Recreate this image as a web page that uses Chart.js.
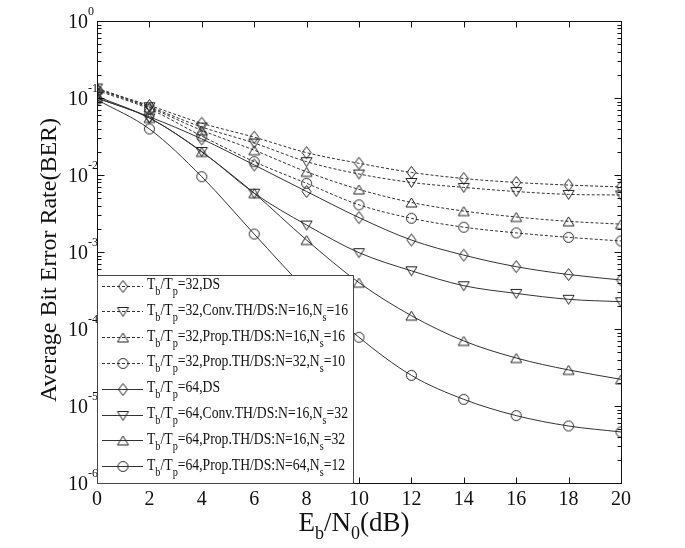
<!DOCTYPE html>
<html><head><meta charset="utf-8">
<script src="https://cdn.jsdelivr.net/npm/chart.js@4/dist/chart.umd.min.js"></script>
<style>html,body{margin:0;padding:0;background:#fff;} #wrap{width:685px;height:548px;position:relative;}</style>
</head><body><div id="wrap"><canvas id="c" width="685" height="548"></canvas></div>
<script>
// ---- data ----
const ebn0 = [0, 2, 4, 6, 8, 10, 12, 14, 16, 18, 20];
const ds32    = [0.130, 0.080, 0.047, 0.031, 0.0195, 0.0142, 0.0108, 0.0090, 0.0080, 0.0074, 0.0070];
const conv32  = [0.135, 0.077, 0.042, 0.026, 0.0149, 0.0103, 0.0080, 0.0069, 0.0061, 0.0056, 0.0055];
const propA32 = [0.130, 0.075, 0.038, 0.021, 0.0110, 0.0065, 0.0044, 0.0034, 0.00285, 0.0025, 0.0023];
const propB32 = [0.125, 0.072, 0.032, 0.0149, 0.0078, 0.0041, 0.00274, 0.0021, 0.00177, 0.00155, 0.00139];
const ds64    = [0.100, 0.057, 0.0294, 0.0135, 0.0061, 0.0028, 0.00143, 0.00091, 0.000645, 0.00051, 0.000433];
const conv64  = [0.105, 0.055, 0.0202, 0.0058, 0.00224, 0.00098, 0.00057, 0.000365, 0.00029, 0.000243, 0.000226];
const propA64 = [0.100, 0.055, 0.0199, 0.0058, 0.00143, 0.00040, 0.000149, 0.000070, 0.000042, 0.0000294, 0.0000222];
const propB64 = [0.095, 0.0396, 0.0095, 0.00171, 0.00032, 0.000078, 0.000025, 0.0000122, 0.0000075, 0.0000055, 0.0000046];
const legendLabels = [
  "T_{b}/T_{p}=32,DS",
  "T_{b}/T_{p}=32,Conv.TH/DS:N=16,N_{s}=16",
  "T_{b}/T_{p}=32,Prop.TH/DS:N=16,N_{s}=16",
  "T_{b}/T_{p}=32,Prop.TH/DS:N=32,N_{s}=10",
  "T_{b}/T_{p}=64,DS",
  "T_{b}/T_{p}=64,Conv.TH/DS:N=16,N_{s}=32",
  "T_{b}/T_{p}=64,Prop.TH/DS:N=16,N_{s}=32",
  "T_{b}/T_{p}=64,Prop.TH/DS:N=64,N_{s}=12"
];
const xTicks = [0, 2, 4, 6, 8, 10, 12, 14, 16, 18, 20];
const yExponents = [0, -1, -2, -3, -4, -5, -6];
const xTitle = "E_{b}/N_{0}(dB)";
const yTitle = "Average Bit Error Rate(BER)";

// ---- styling ----
const SERIF = '"Liberation Serif", "Times New Roman", serif';
const LINE_COLOR = '#333';
function mk(shape){
  const c = document.createElement('canvas'); c.width = 15; c.height = 15;
  const g = c.getContext('2d'); g.strokeStyle = '#222'; g.lineWidth = 1; g.beginPath();
  if (shape === 'diamond') { g.moveTo(7.5,1.5); g.lineTo(12,7.5); g.lineTo(7.5,13.5); g.lineTo(3,7.5); g.closePath(); }
  else if (shape === 'tri') { g.moveTo(7.5,3); g.lineTo(13,12); g.lineTo(2,12); g.closePath(); }
  else if (shape === 'nabla') { g.moveTo(2,3.5); g.lineTo(13,3.5); g.lineTo(7.5,12.5); g.closePath(); }
  else { g.arc(7.5,7.5,5,0,Math.PI*2); }
  g.stroke(); return c;
}
const M = {diamond: mk('diamond'), nabla: mk('nabla'), tri: mk('tri'), circle: mk('circle')};
const seriesList = [ds32, conv32, propA32, propB32, ds64, conv64, propA64, propB64];
const shapes = ['diamond','nabla','tri','circle','diamond','nabla','tri','circle'];
const dashed = [true,true,true,true,false,false,false,false];

const datasets = seriesList.map((arr, i) => ({
  label: legendLabels[i],
  data: arr.map((v, k) => ({x: ebn0[k], y: v})),
  borderColor: LINE_COLOR,
  borderWidth: 1,
  borderDash: dashed[i] ? [3, 2] : [],
  pointStyle: M[shapes[i]],
  pointRadius: 5,
  cubicInterpolationMode: 'monotone',
  fill: false
}));

function parseRich(s){
  const parts = []; const re = /_\{([^}]*)\}/g; let last = 0, m;
  while ((m = re.exec(s))) {
    if (m.index > last) parts.push({t: s.slice(last, m.index), sub: false});
    parts.push({t: m[1], sub: true}); last = re.lastIndex;
  }
  if (last < s.length) parts.push({t: s.slice(last), sub: false});
  return parts;
}
function richWidth(ctx, parts, f, fs){ let w = 0; for (const p of parts){ ctx.font = p.sub ? fs : f; w += ctx.measureText(p.t).width; } return w; }
function drawRich(ctx, parts, x, y, f, fs, dy){
  for (const p of parts){ ctx.font = p.sub ? fs : f; ctx.fillText(p.t, x, y + (p.sub ? dy : 0)); x += ctx.measureText(p.t).width; }
}

const decor = {
  id: 'decor',
  afterDatasetsDraw(chart){
    const ctx = chart.ctx, a = chart.chartArea, xs = chart.scales.x, ys = chart.scales.y;
    ctx.save();
    ctx.strokeStyle = '#111'; ctx.lineWidth = 1; ctx.setLineDash([]);
    const L = Math.round(a.left) + 0.5, R = Math.round(a.right) + 0.5, T = Math.round(a.top) + 0.5, B = Math.round(a.bottom) + 0.5;
    ctx.strokeRect(L, T, R - L, B - T);
    ctx.beginPath();
    // x ticks (top & bottom, inward)
    for (const v of xTicks){
      const px = Math.round(xs.getPixelForValue(v)) + 0.5;
      ctx.moveTo(px, B); ctx.lineTo(px, B - 6);
      ctx.moveTo(px, T); ctx.lineTo(px, T + 6);
    }
    // y ticks (left & right, inward), with log minor ticks
    for (const e of yExponents){
      const py = Math.round(ys.getPixelForValue(Math.pow(10, e))) + 0.5;
      ctx.moveTo(L, py); ctx.lineTo(L + 7, py);
      ctx.moveTo(R, py); ctx.lineTo(R - 7, py);
      if (e < 0) {
        for (let k = 2; k <= 9; k++){
          const pm = Math.round(ys.getPixelForValue(k * Math.pow(10, e))) + 0.5;
          ctx.moveTo(L, pm); ctx.lineTo(L + 4, pm);
          ctx.moveTo(R, pm); ctx.lineTo(R - 4, pm);
        }
      }
    }
    ctx.stroke();

    // tick labels
    ctx.fillStyle = '#111';
    ctx.textAlign = 'center'; ctx.textBaseline = 'alphabetic';
    ctx.font = '20px ' + SERIF;
    for (const v of xTicks){ ctx.fillText(String(v), xs.getPixelForValue(v), a.bottom + 22); }
    for (const e of yExponents){
      const py = ys.getPixelForValue(Math.pow(10, e));
      ctx.font = '20px ' + SERIF; ctx.textAlign = 'right';
      ctx.fillText('10', a.left - 9, py + 7);
      ctx.font = '12px ' + SERIF; ctx.textAlign = 'left';
      ctx.fillText(e === 0 ? '0' : '-' + Math.abs(e), a.left - 9, py - 6);
    }

    // axis titles
    ctx.textAlign = 'left';
    const xp = parseRich(xTitle);
    const fX = '27px ' + SERIF, fXs = '18px ' + SERIF;
    const wX = richWidth(ctx, xp, fX, fXs);
    drawRich(ctx, xp, (a.left + a.right) / 2 - wX / 2 - 5, a.bottom + 48, fX, fXs, 8);
    ctx.save();
    ctx.translate(56, (a.top + a.bottom) / 2 + 8);
    ctx.rotate(-Math.PI / 2);
    ctx.font = '24px ' + SERIF; ctx.textAlign = 'center';
    ctx.fillText(yTitle, 0, 0);
    ctx.restore();

    // legend (opaque box inside the plot, bottom-left)
    const lx0 = Math.round(a.left) + 0.5, ly0 = 275.5, lx1 = 353.5, ly1 = B;
    ctx.fillStyle = '#fff';
    ctx.fillRect(lx0, ly0, lx1 - lx0, ly1 - ly0);
    ctx.strokeStyle = '#444'; ctx.lineWidth = 1;
    ctx.strokeRect(lx0, ly0, lx1 - lx0, ly1 - ly0);
    const fL = '16px ' + SERIF, fLs = '12px ' + SERIF;
    const widest = richWidth(ctx, parseRich(legendLabels[1]), fL, fLs);
    const sx = 201 / widest;
    chart.data.datasets.forEach((ds, i) => {
      const base = 289 + i * 25.8;
      const ly = Math.round(base - 3.5) + 0.5;
      ctx.strokeStyle = LINE_COLOR; ctx.lineWidth = 1;
      ctx.setLineDash(ds.borderDash || []);
      ctx.beginPath(); ctx.moveTo(102, ly); ctx.lineTo(143, ly); ctx.stroke();
      ctx.setLineDash([]);
      const img = ds.pointStyle;
      ctx.fillStyle = '#fff';
      ctx.drawImage(img, 123 - img.width / 2, ly - img.height / 2);
      ctx.fillStyle = '#111';
      ctx.save();
      ctx.translate(147, base);
      ctx.scale(sx, 1);
      drawRich(ctx, parseRich(ds.label), 0, 0, fL, fLs, 6);
      ctx.restore();
    });
    ctx.restore();
  }
};

new Chart(document.getElementById('c'), {
  type: 'line',
  data: { datasets },
  options: {
    responsive: false, animation: false, devicePixelRatio: 1,
    layout: { padding: { left: 97, top: 21, right: 64, bottom: 65 } },
    plugins: { legend: { display: false }, tooltip: { enabled: false } },
    scales: {
      x: { type: 'linear', min: 0, max: 20, display: false },
      y: { type: 'logarithmic', min: 1e-6, max: 1, display: false }
    }
  },
  plugins: [decor]
});
</script>
</body></html>
